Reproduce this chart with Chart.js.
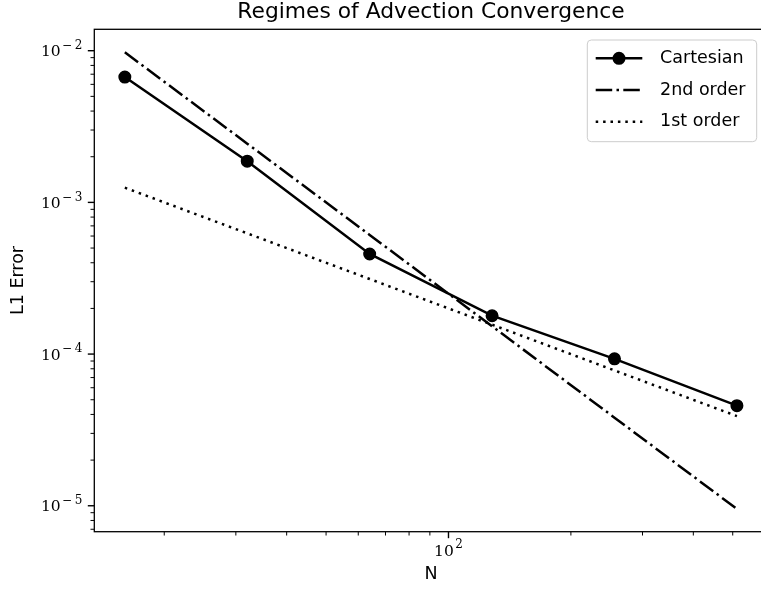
<!DOCTYPE html>
<html>
<head>
<meta charset="utf-8">
<script src="https://cdn.jsdelivr.net/npm/chart.js@4/dist/chart.umd.min.js"></script>
<style>
html, body { margin: 0; padding: 0; background: #fff; overflow: hidden; }
#wrap { width: 775px; height: 596px; }
</style>
</head>
<body>
<div id="wrap"><canvas id="chart" width="775" height="596"></canvas></div>
<script>
// grid sizes and measured L1 errors
const nValues = [16, 32, 64, 128, 256, 512];
const cartesianError = [6.7e-3, 1.87e-3, 4.57e-4, 1.79e-4, 9.3e-5, 4.57e-5];
const secondOrderRef = [9.76e-3, 2.44e-3, 6.1e-4, 1.525e-4, 3.81e-5, 9.53e-6];
const firstOrderRef = [1.25e-3, 6.25e-4, 3.125e-4, 1.5625e-4, 7.8e-5, 3.9e-5];
const seriesLabels = ['Cartesian', '2nd order', '1st order'];

const xTickValues = [20, 30, 40, 50, 60, 70, 80, 90, 100, 200, 300, 400, 500, 600];
const yTickValues = [
    7e-6, 8e-6, 9e-6,
    1e-5, 2e-5, 3e-5, 4e-5, 5e-5, 6e-5, 7e-5, 8e-5, 9e-5,
    1e-4, 2e-4, 3e-4, 4e-4, 5e-4, 6e-4, 7e-4, 8e-4, 9e-4,
    1e-3, 2e-3, 3e-3, 4e-3, 5e-3, 6e-3, 7e-3, 8e-3, 9e-3,
    1e-2
];

const titleText = 'Regimes of Advection Convergence';
const xTitle = 'N';
const yTitle = 'L1 Error';

const isPow10 = (v) => {
    const e = Math.log10(v);
    return Math.abs(e - Math.round(e)) < 1e-9;
};
const toPoints = (ys) => nValues.map((n, i) => ({ x: n, y: ys[i] }));

const BASE_FONT = '15.5px "DejaVu Serif", serif';
const EXP_FONT = '12px "DejaVu Serif", serif';

// draws "10" with a raised exponent, anchored at its right edge or centre
function drawPowLabel(ctx, v, x, baseline, align) {
    const e = Math.round(Math.log10(v));
    const sign = e < 0 ? '\u2212' : '';
    const digits = String(Math.abs(e));
    ctx.font = BASE_FONT;
    const wBase = ctx.measureText('10').width;
    ctx.font = EXP_FONT;
    const wSign = sign ? ctx.measureText(sign).width + 2.5 : 0;
    const wDig = ctx.measureText(digits).width;
    const total = wBase + 1.5 + wSign + wDig;
    const left = align === 'right' ? x - total : x - total / 2;
    ctx.textAlign = 'left';
    ctx.textBaseline = 'alphabetic';
    ctx.font = BASE_FONT;
    ctx.fillText('10', left, baseline);
    ctx.font = EXP_FONT;
    if (sign) ctx.fillText(sign, left + wBase + 1.5, baseline - 7.3);
    ctx.fillText(digits, left + wBase + 1.5 + wSign, baseline - 7.3);
}

// ticks (major / minor), tick labels and the axes frame, drawn off the scales
const axesFrame = {
    id: 'axesFrame',
    afterDraw(chart) {
        const { ctx, chartArea: a, scales } = chart;
        ctx.save();
        ctx.strokeStyle = '#000';
        ctx.fillStyle = '#000';
        scales.x.ticks.forEach(t => {
            const px = scales.x.getPixelForValue(t.value);
            const major = isPow10(t.value);
            ctx.lineWidth = major ? 1.4 : 1;
            ctx.beginPath();
            ctx.moveTo(px, a.bottom);
            ctx.lineTo(px, a.bottom + (major ? 6.5 : 3.8));
            ctx.stroke();
            if (major) drawPowLabel(ctx, t.value, px, a.bottom + 24, 'center');
        });
        scales.y.ticks.forEach(t => {
            const py = scales.y.getPixelForValue(t.value);
            const major = isPow10(t.value);
            ctx.lineWidth = major ? 1.4 : 1;
            ctx.beginPath();
            ctx.moveTo(a.left, py);
            ctx.lineTo(a.left - (major ? 6.5 : 3.8), py);
            ctx.stroke();
            if (major) drawPowLabel(ctx, t.value, a.left - 12, py + 5.7, 'right');
        });
        ctx.lineWidth = 1.3;
        ctx.strokeRect(a.left, a.top, a.right - a.left, a.bottom - a.top);
        ctx.restore();
    }
};

// matplotlib-like framed legend in the upper right
const legendBox = {
    id: 'legendBox',
    afterDraw(chart) {
        const { ctx, chartArea } = chart;
        const w = 169.4, h = 101.7;
        const x0 = chartArea.right - 11 - w;
        const y0 = chartArea.top + 10.7;
        ctx.save();
        ctx.beginPath();
        ctx.roundRect(x0, y0, w, h, 4);
        ctx.fillStyle = 'rgba(255,255,255,0.8)';
        ctx.fill();
        ctx.strokeStyle = '#cccccc';
        ctx.lineWidth = 1;
        ctx.stroke();
        chart.data.datasets.forEach((ds, i) => {
            const cy = y0 + 18.3 + i * 31.7;
            ctx.beginPath();
            ctx.setLineDash(ds.borderDash || []);
            ctx.strokeStyle = ds.borderColor;
            ctx.lineWidth = ds.borderWidth;
            ctx.moveTo(x0 + 8.4, cy);
            ctx.lineTo(x0 + 55, cy);
            ctx.stroke();
            ctx.setLineDash([]);
            if (ds.pointRadius > 0) {
                ctx.beginPath();
                ctx.arc(x0 + 31.7, cy, ds.pointRadius + ds.pointBorderWidth / 2, 0, Math.PI * 2);
                ctx.fillStyle = ds.pointBackgroundColor;
                ctx.fill();
            }
            ctx.fillStyle = '#000';
            ctx.font = '17.5px "DejaVu Sans"';
            ctx.textBaseline = 'middle';
            ctx.textAlign = 'left';
            ctx.fillText(ds.label, x0 + 72.7, cy);
        });
        ctx.restore();
    }
};

Chart.defaults.font.family = '"DejaVu Sans", sans-serif';
Chart.defaults.color = '#000';

const hiddenGrid = {
    display: true,
    drawOnChartArea: false,
    drawTicks: false,
    color: 'rgba(0,0,0,0)'
};

new Chart(document.getElementById('chart'), {
    type: 'line',
    data: {
        datasets: [
            {
                label: seriesLabels[0],
                data: toPoints(cartesianError),
                borderColor: '#000',
                borderWidth: 2.5,
                pointRadius: 5.7,
                pointBorderWidth: 1.6,
                pointBackgroundColor: '#000',
                pointBorderColor: '#000'
            },
            {
                label: seriesLabels[1],
                data: toPoints(secondOrderRef),
                borderColor: '#000',
                borderWidth: 2.5,
                borderDash: [16.5, 4.3, 2.5, 4.3],
                pointRadius: 0,
                pointBorderWidth: 0
            },
            {
                label: seriesLabels[2],
                data: toPoints(firstOrderRef),
                borderColor: '#000',
                borderWidth: 2.5,
                borderDash: [2.5, 4.9],
                pointRadius: 0,
                pointBorderWidth: 0
            }
        ]
    },
    options: {
        responsive: false,
        animation: false,
        events: [],
        layout: { padding: { left: 0, right: 6.3, top: 0, bottom: 0 } },
        plugins: {
            legend: { display: false },
            tooltip: { enabled: false },
            title: {
                display: true,
                text: titleText,
                fullSize: false,
                color: '#000',
                font: { family: '"DejaVu Sans", sans-serif', size: 21.8, weight: 'normal', lineHeight: 1 },
                padding: { top: 1.5, bottom: 6 }
            }
        },
        scales: {
            x: {
                type: 'logarithmic',
                min: 13.46,
                max: 609.5,
                bounds: 'data',
                afterBuildTicks: (s) => { s.ticks = xTickValues.map(v => ({ value: v })); },
                afterFit: (s) => { s.height = 64.3; },
                grid: hiddenGrid,
                border: { display: false },
                ticks: { display: false, autoSkip: false },
                title: {
                    display: true,
                    text: xTitle,
                    color: '#000',
                    font: { size: 17.5 },
                    padding: { top: 0, bottom: 10.8 }
                }
            },
            y: {
                type: 'logarithmic',
                min: 6.745e-6,
                max: 1.384e-2,
                bounds: 'data',
                afterBuildTicks: (s) => { s.ticks = yTickValues.map(v => ({ value: v })); },
                afterFit: (s) => { s.width = 94.3; },
                grid: hiddenGrid,
                border: { display: false },
                ticks: { display: false, autoSkip: false },
                title: {
                    display: true,
                    text: yTitle,
                    color: '#000',
                    font: { size: 17.5 },
                    padding: { top: 7.5, bottom: 0 }
                }
            }
        }
    },
    plugins: [axesFrame, legendBox]
});
</script>
</body>
</html>
